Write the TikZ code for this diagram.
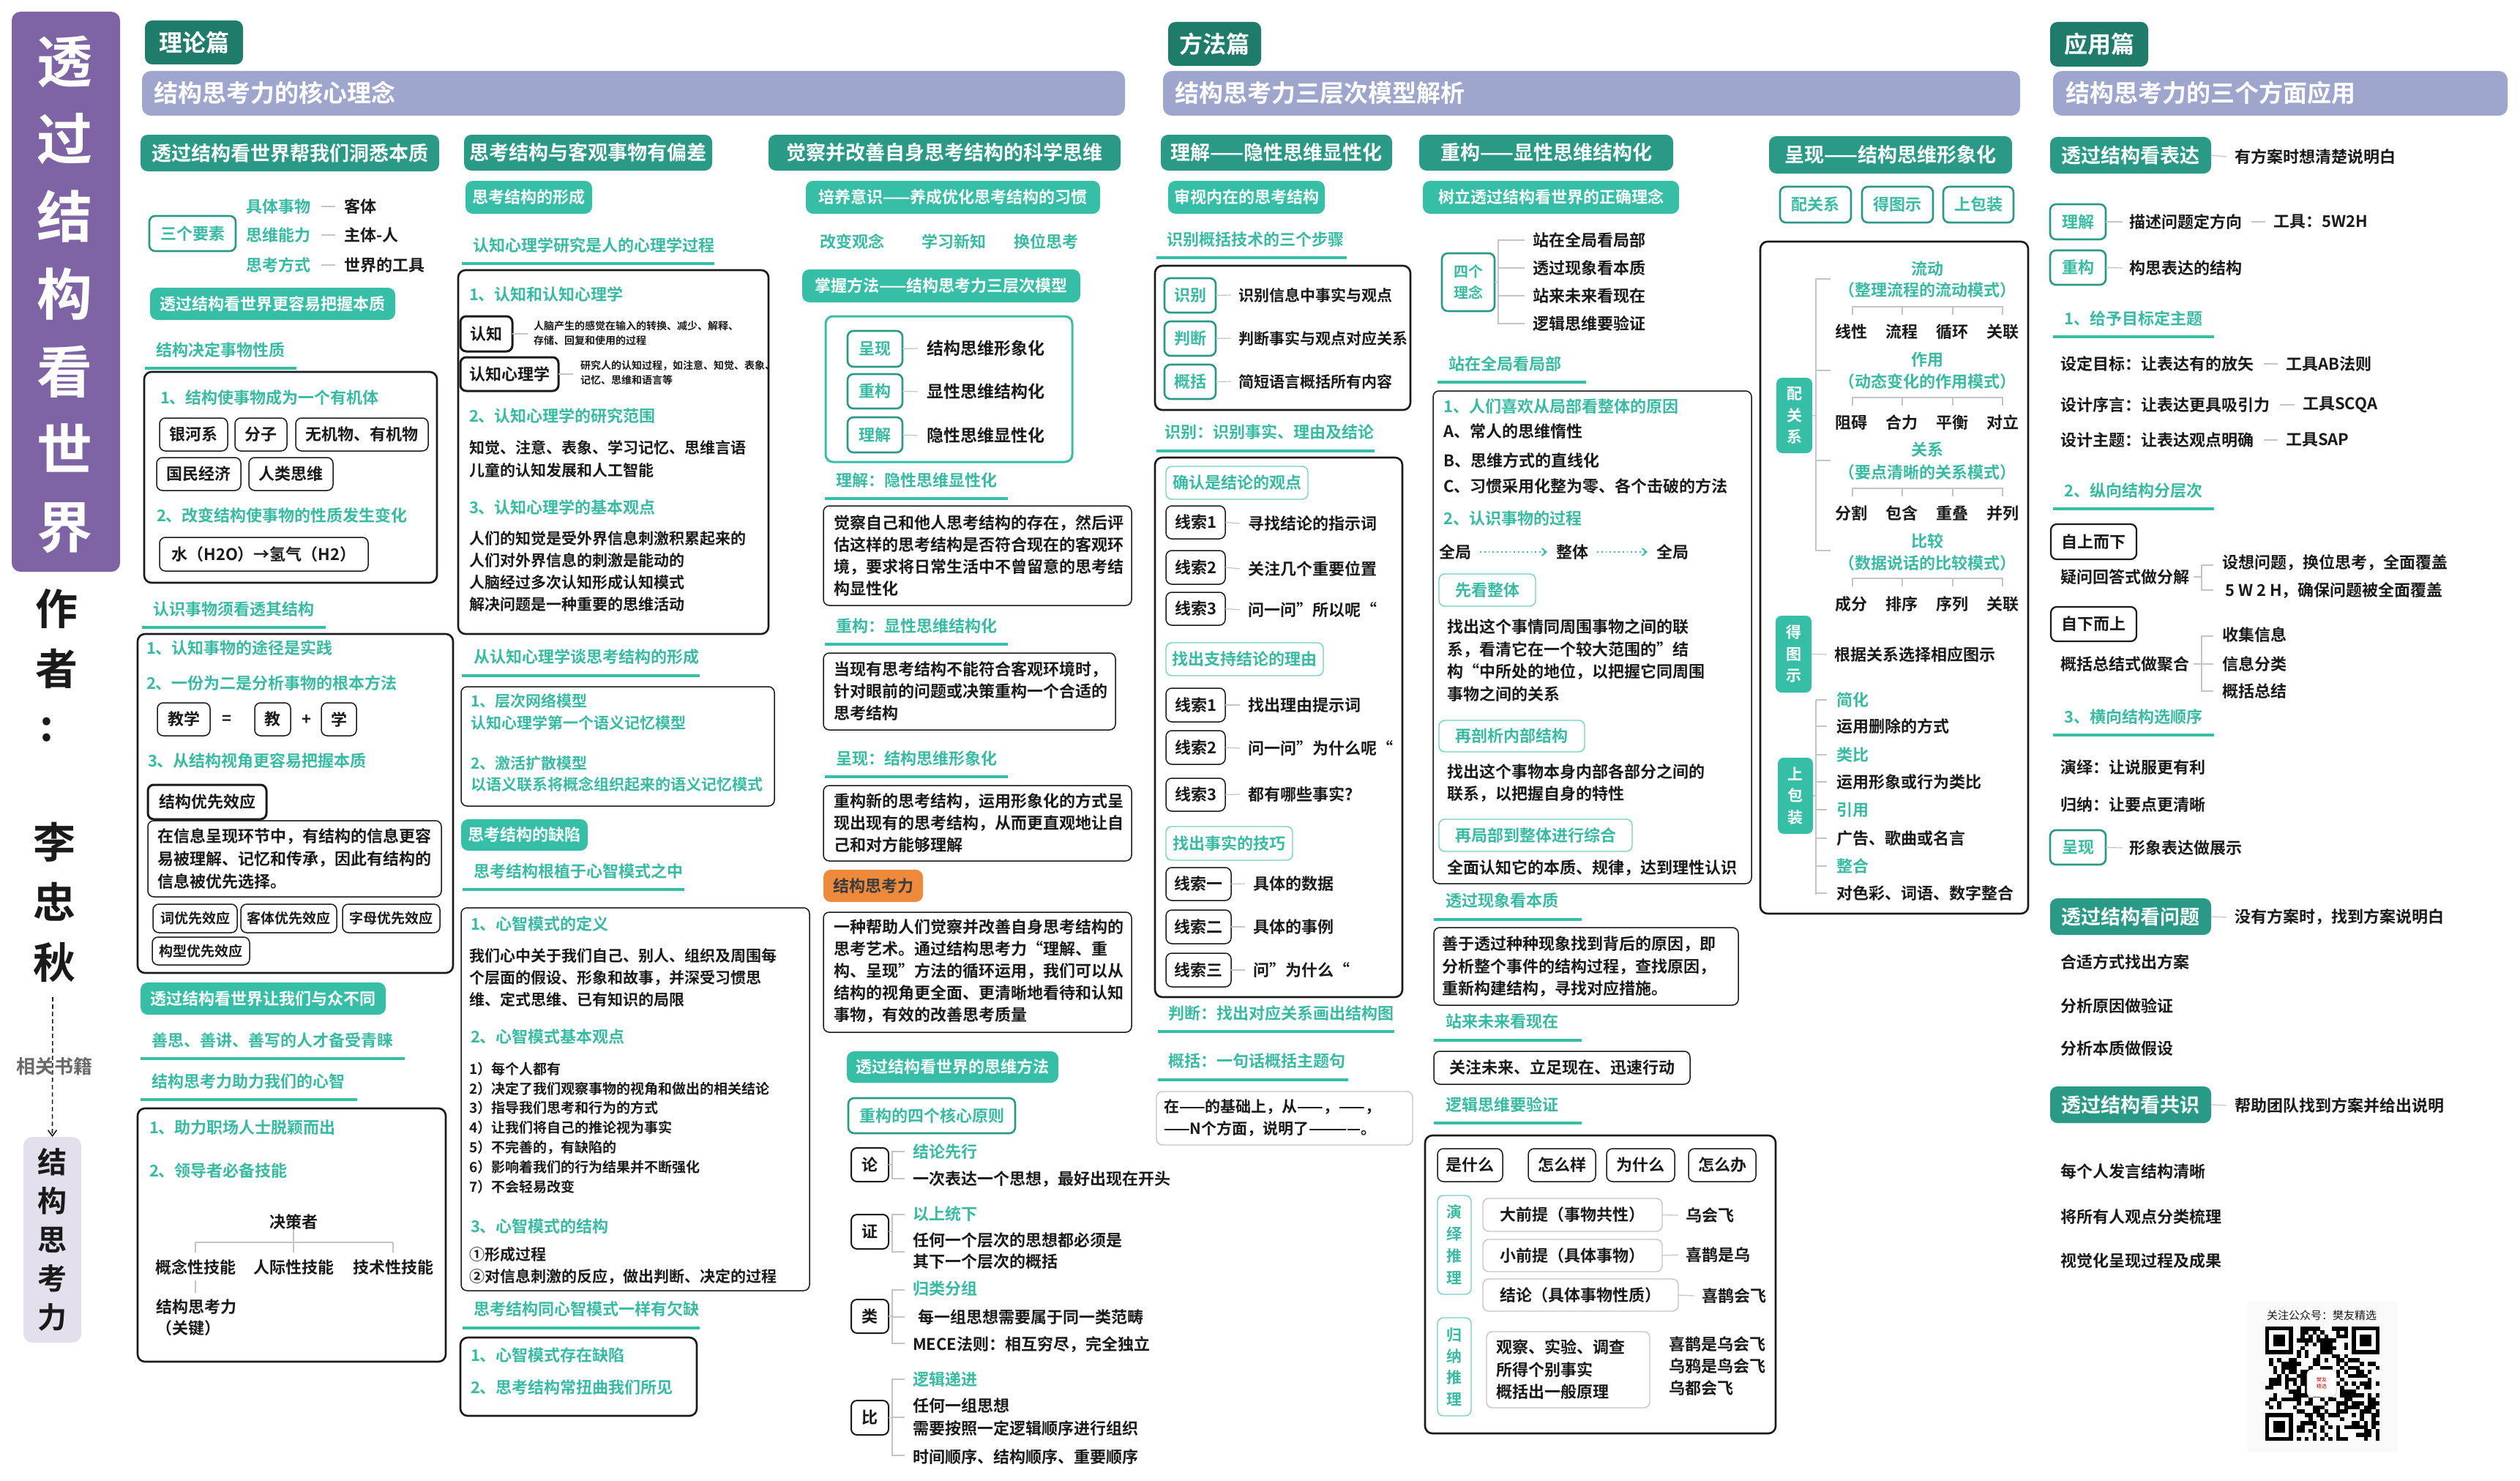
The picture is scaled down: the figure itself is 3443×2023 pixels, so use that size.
\documentclass[tikz,border=0pt]{standalone}
\usepackage{fontspec}
\setmainfont{Noto Sans CJK SC}[BoldFont=* Bold]
\usetikzlibrary{arrows.meta}
\definecolor{purp}{HTML}{7E64A4}
\definecolor{lav}{HTML}{9EA6CD}
\definecolor{lavL}{HTML}{E4DFEC}
\definecolor{tealD}{HTML}{1F7C6A}
\definecolor{tealM}{HTML}{2A9A86}
\definecolor{tealB}{HTML}{36BFA6}
\definecolor{tealT}{HTML}{38BBA2}
\definecolor{ink}{HTML}{1A1A1A}
\definecolor{gry}{HTML}{C4C4C4}
\definecolor{orng}{HTML}{EE8A3C}
\newcommand\fT{\fontsize{38}{53}\selectfont}
\newcommand\fAu{\fontsize{29}{41}\selectfont}
\newcommand\fSec{\fontsize{16}{18}\selectfont}
\newcommand\fBar{\fontsize{16.5}{18}\selectfont}
\newcommand\fH{\fontsize{13.5}{15}\selectfont}
\newcommand\fN{\fontsize{11}{15}\selectfont}
\newcommand\fM{\fontsize{10.5}{15}\selectfont}
\newcommand\fSm{\fontsize{9.5}{13.4}\selectfont}
\newcommand\fX{\fontsize{7}{10}\selectfont}
\newcommand\bx[7][]{\node[#1,minimum width={(#4-#2)*0.5pt},minimum height={(#5-#3)*0.5pt}] (#6) at ({(#2+#4)/2},{(#3+#5)/2}) {#7};}
\tikzset{
 zbase/.style={inner sep=0pt,outer sep=0pt,font=\bfseries\fN,text=ink},
 ztx/.style={zbase,anchor=west},
 ztxn/.style={zbase,anchor=north west,align=left},
 ztc/.style={ztx,text=tealT},
 ztcn/.style={ztxn,text=tealT},
 zsec/.style={zbase,fill=tealD,rounded corners=5pt,text=white,font=\bfseries\fSec},
 zbar/.style={zbase,fill=lav,rounded corners=6pt},
 zbart/.style={ztx,text=white,font=\bfseries\fBar},
 zhd/.style={zbase,fill=tealM,rounded corners=5pt,text=white,font=\bfseries\fH},
 zsb/.style={zbase,fill=tealB,rounded corners=5pt,text=white},
 zbk/.style={zbase,draw=ink,line width=1.3pt,rounded corners=5pt},
 zch/.style={zbase,draw=ink,line width=0.75pt,rounded corners=4pt},
 zchK/.style={zbase,draw=ink,line width=1.5pt,rounded corners=4pt},
 zchT/.style={zbase,draw=tealM,line width=1.3pt,rounded corners=4pt,text=tealT},
 zchL/.style={zbase,draw=tealB!70,line width=0.7pt,rounded corners=4pt,text=tealT},
 zchG/.style={zbase,draw=gry,line width=0.7pt,rounded corners=4pt},
 zvt/.style={zbase,fill=tealB,rounded corners=4pt,text=white,align=center,font=\bfseries\fontsize{10.5}{14.75}\selectfont},
 zul/.style={draw=tealB,line width=2pt},
 zcn/.style={draw=gry,line width=0.6pt},
}
\begin{document}
\begin{tikzpicture}[x=0.5pt,y=-0.5pt]
\useasboundingbox (0,0) rectangle (3443,2023);
\fill[white] (0,0) rectangle (3443,2023);
% ---------------- left panel
\bx[zbase,fill=purp,rounded corners=6pt]{16}{16}{164}{781}{lbar}{}
\node[zbase,text=white,font=\bfseries\fT,align=center] (ltitle) at (88,402) {透\\过\\结\\构\\看\\世\\界};
\node[zbase,font=\bfseries\fAu,align=center] (lzz) at (77,873) {作\\者};
\node[zbase,font=\bfseries\fAu] (lcolon) at (64,997) {:};
\node[zbase,font=\bfseries\fAu,align=center] (lname) at (75,1232) {李\\忠\\秋};
\bx[zbase,fill=lavL,rounded corners=6pt]{32}{1553}{111}{1834}{lbox}{}
\node[zbase,font=\bfseries\fontsize{20}{26.5}\selectfont,align=center] (lboxt) at (lbox.center) {结\\构\\思\\考\\力};
\coordinate (dstart) at (72,1362);
\draw[ink,densely dashed,line width=0.8pt,-{Straight Barb[length=4pt,width=6pt]}] (dstart) -- (lbox.north);
\node[zbase,text=ink!65,font=\bfseries\fontsize{13}{15}\selectfont] (lrel) at (75,1457) {相关书籍};
% ---------------- column 1
\bx[zsec]{198}{28}{332}{88}{sec1}{理论篇}
\bx[zbar]{194}{97}{1537}{158}{bar1}{}
\node[zbart] (bar1t) at (210,127) {结构思考力的核心理念};
\bx[zhd]{192}{184}{600}{234}{h11}{透过结构看世界帮我们洞悉本质}
\bx[zchT]{204}{295}{322}{343}{sgys}{三个要素}
\node[ztc] (ra1) at (336,282) {具体事物};
\node[ztx] (rb1) at (470,282) {客体};
\node[ztc] (ra2) at (336,321) {思维能力};
\node[ztx] (rb2) at (470,321) {主体-人};
\node[ztc] (ra3) at (336,362) {思考方式};
\node[ztx] (rb3) at (470,362) {世界的工具};
\foreach \k in {1,2,3}{\draw[zcn] ([xshift=7.5pt]ra\k.east) -- ([xshift=-6pt]rb\k.west);}
\bx[zsb]{205}{393}{540}{437}{s11}{透过结构看世界更容易把握本质}
\node[ztc] (t11) at (213,478) {结构决定事物性质};
\draw[zul] (198,503) -- (405,503);
\bx[zbk]{197}{508}{597}{796}{box1}{}
\node[ztc] (t12) at (219,543) {1、结构使事物成为一个有机体};
\bx[zch]{218}{571}{311}{616}{c11}{银河系}
\bx[zch]{321}{571}{392}{616}{c12}{分子}
\bx[zch]{404}{571}{585}{616}{c13}{无机物、有机物}
\bx[zch]{214}{625}{329}{670}{c14}{国民经济}
\bx[zch]{340}{625}{455}{670}{c15}{人类思维}
\node[ztc] (t13) at (214,704) {2、改变结构使事物的性质发生变化};
\bx[zch]{218}{734}{503}{780}{c16}{水（H2O）→氢气（H2）}
\node[ztc] (t14) at (209,832) {认识事物须看透其结构};
\draw[zul] (194,857) -- (445,857);
\bx[zbk]{188}{866}{619}{1329}{box2}{}
\node[ztc] (t15) at (200,885) {1、认知事物的途径是实践};
\node[ztc] (t16) at (200,933) {2、一份为二是分析事物的根本方法};
\bx[zch]{215}{960}{287}{1005}{c17}{教学}
\node[zbase] (eq1) at (310,983) {=};
\bx[zch]{348}{960}{397}{1005}{c18}{教}
\node[zbase] (pl1) at (419,983) {+};
\bx[zch]{439}{960}{487}{1005}{c19}{学}
\node[ztc] (t17) at (202,1039) {3、从结构视角更容易把握本质};
\bx[zchK]{202}{1072}{364}{1119}{c20}{结构优先效应}
\bx[zch]{202}{1121}{603}{1225}{c21}{}
\node[ztxn,font=\bfseries\fontsize{11}{15.5}\selectfont] (p11) at (215,1132) {在信息呈现环节中，有结构的信息更容\\易被理解、记忆和传承，因此有结构的\\信息被优先选择。};
\bx[zch,font=\bfseries\fSm]{209}{1235}{324}{1274}{c22}{词优先效应}
\bx[zch,font=\bfseries\fSm]{329}{1235}{460}{1274}{c23}{客体优先效应}
\bx[zch,font=\bfseries\fSm]{468}{1235}{601}{1274}{c24}{字母优先效应}
\bx[zch,font=\bfseries\fSm]{208}{1280}{341}{1318}{c25}{构型优先效应}
\bx[zsb]{192}{1342}{527}{1386}{s12}{透过结构看世界让我们与众不同}
\node[ztc] (t18) at (207,1421) {善思、善讲、善写的人才备受青睐};
\draw[zul] (192,1446) -- (553,1446);
\node[ztc] (t19) at (207,1477) {结构思考力助力我们的心智};
\draw[zul] (192,1502) -- (488,1502);
\bx[zbk]{188}{1514}{609}{1860}{box3}{}
\node[ztc] (t20) at (204,1540) {1、助力职场人士脱颖而出};
\node[ztc] (t21) at (204,1599) {2、领导者必备技能};
\node[zbase] (jcz) at (401,1669) {决策者};
\node[zbase] (sk1) at (267,1731) {概念性技能};
\node[zbase] (sk2) at (401,1731) {人际性技能};
\node[zbase] (sk3) at (537,1731) {技术性技能};
\coordinate (tjm) at (401,1697);
\draw[zcn] (jcz.south) -- (tjm);
\draw[zcn] (sk1.north |- tjm) -- (sk3.north |- tjm);
\foreach \k in {1,2,3}{\draw[zcn] (sk\k.north |- tjm) -- ++(0,14);}
\draw[zcn] (sk1.south) ++(0,7) -- ++(0,17);
\node[ztxn,font=\bfseries\fontsize{11}{14.5}\selectfont] (jgl) at (213,1775) {结构思考力\\（关键）};
% ---------------- column 2
\bx[zhd]{634}{184}{973}{233}{h12}{思考结构与客观事物有偏差}
\bx[zsb]{636}{247}{809}{292}{s21}{思考结构的形成}
\node[ztc] (t22) at (646,335) {认知心理学研究是人的心理学过程};
\draw[zul] (631,360) -- (976,360);
\bx[zbk]{626}{369}{1050}{866}{boxA}{}
\node[ztc] (t23) at (641,402) {1、认知和认知心理学};
\bx[zchK]{629}{432}{700}{480}{rz}{认知}
\bx[zchK]{629}{488}{763}{534}{rzx}{认知心理学}
\draw[zcn] (rz.east) -- ++(21,0);
\draw[zcn] (rzx.east) -- ++(20,0);
\node[ztxn,font=\bfseries\fX] (rzt) at (729,438) {人脑产生的感觉在输入的转换、减少、解释、\\存储、回复和使用的过程};
\node[ztxn,font=\bfseries\fX] (rzxt) at (793,492) {研究人的认知过程，如注意、知觉、表象、\\记忆、思维和语言等};
\node[ztc] (t24) at (641,568) {2、认知心理学的研究范围};
\node[ztxn,font=\bfseries\fontsize{10.5}{15.5}\selectfont] (p21) at (641,601) {知觉、注意、表象、学习记忆、思维言语\\儿童的认知发展和人工智能};
\node[ztc] (t25) at (641,693) {3、认知心理学的基本观点};
\node[ztxn,font=\bfseries\fM] (p22) at (641,725) {人们的知觉是受外界信息刺激积累起来的\\人们对外界信息的刺激是能动的\\人脑经过多次认知形成认知模式\\解决问题是一种重要的思维活动};
\node[ztc] (t26) at (647,897) {从认知心理学谈思考结构的形成};
\draw[zul] (631,923) -- (956,923);
\bx[zch]{630}{938}{1058}{1101}{boxB}{}
\node[ztcn,font=\bfseries\fM] (p23) at (643,947) {1、层次网络模型\\认知心理学第一个语义记忆模型};
\node[ztcn,font=\bfseries\fontsize{10.5}{14.5}\selectfont] (p24) at (643,1033) {2、激活扩散模型\\以语义联系将概念组织起来的语义记忆模式};
\bx[zsb]{630}{1119}{803}{1162}{s22}{思考结构的缺陷}
\node[ztc] (t27) at (647,1190) {思考结构根植于心智模式之中};
\draw[zul] (632,1215) -- (935,1215);
\bx[zch]{630}{1240}{1106}{1763}{boxC}{}
\node[ztc] (t28) at (643,1262) {1、心智模式的定义};
\node[ztxn,font=\bfseries\fM] (p25) at (641,1296) {我们心中关于我们自己、别人、组织及周围每\\个层面的假设、形象和故事，并深受习惯思\\维、定式思维、已有知识的局限};
\node[ztc] (t29) at (643,1416) {2、心智模式基本观点};
\node[ztxn,font=\bfseries\fSm] (p26) at (641,1451) {1）每个人都有\\2）决定了我们观察事物的视角和做出的相关结论\\3）指导我们思考和行为的方式\\4）让我们将自己的推论视为事实\\5）不完善的，有缺陷的\\6）影响着我们的行为结果并不断强化\\7）不会轻易改变};
\node[ztc] (t30) at (643,1675) {3、心智模式的结构};
\node[ztxn,font=\bfseries\fM] (p27) at (641,1703) {①形成过程\\②对信息刺激的反应，做出判断、决定的过程};
\node[ztc] (t31) at (647,1788) {思考结构同心智模式一样有欠缺};
\draw[zul] (632,1814) -- (956,1814);
\bx[zbk]{629}{1827}{952}{1934}{boxD}{}
\node[ztc] (t32) at (643,1851) {1、心智模式存在缺陷};
\node[ztc] (t33) at (643,1895) {2、思考结构常扭曲我们所见};
% ---------------- column 3
\bx[zhd]{1050}{184}{1531}{233}{h13}{觉察并改善自身思考结构的科学思维}
\bx[zsb]{1101}{247}{1503}{292}{s31}{培养意识——养成优化思考结构的习惯}
\node[ztc] (t34) at (1120,330) {改变观念};
\node[ztc] (t35) at (1259,330) {学习新知};
\node[ztc] (t36) at (1385,330) {换位思考};
\bx[zsb]{1096}{368}{1476}{413}{s32}{掌握方法——结构思考力三层次模型}
\bx[zbase,draw=tealB,line width=1.5pt,rounded corners=5pt]{1128}{432}{1465}{631}{boxT}{}
\bx[zchT]{1158}{452}{1233}{501}{m1}{呈现}
\bx[zchT]{1158}{511}{1233}{558}{m2}{重构}
\bx[zchT]{1158}{570}{1233}{618}{m3}{理解}
\node[ztx,font=\bfseries\fontsize{11.5}{15}\selectfont] (mt1) at (1266,476) {结构思维形象化};
\node[ztx,font=\bfseries\fontsize{11.5}{15}\selectfont] (mt2) at (1266,535) {显性思维结构化};
\node[ztx,font=\bfseries\fontsize{11.5}{15}\selectfont] (mt3) at (1266,595) {隐性思维显性化};
\foreach \k in {1,2,3}{\draw[zcn] (m\k.east) -- ([xshift=-6pt]mt\k.west);}
\node[ztc] (t37) at (1142,656) {理解：隐性思维显性化};
\draw[zul] (1127,681) -- (1377,681);
\bx[zch]{1125}{691}{1546}{827}{q31}{}
\node[ztxn] (p31) at (1139,704) {觉察自己和他人思考结构的存在，然后评\\估这样的思考结构是否符合现在的客观环\\境，要求将日常生活中不曾留意的思考结\\构显性化};
\node[ztc] (t38) at (1142,855) {重构：显性思维结构化};
\draw[zul] (1127,880) -- (1377,880);
\bx[zch]{1125}{892}{1524}{997}{q32}{}
\node[ztxn] (p32) at (1139,904) {当现有思考结构不能符合客观环境时，\\针对眼前的问题或决策重构一个合适的\\思考结构};
\node[ztc] (t39) at (1142,1036) {呈现：结构思维形象化};
\draw[zul] (1127,1061) -- (1377,1061);
\bx[zch]{1125}{1073}{1546}{1176}{q33}{}
\node[ztxn] (p33) at (1139,1084) {重构新的思考结构，运用形象化的方式呈\\现出现有的思考结构，从而更直观地让自\\己和对方能够理解};
\bx[zbase,fill=orng,rounded corners=5pt,text=ink!85]{1125}{1188}{1261}{1232}{orb}{结构思考力}
\bx[zch]{1125}{1246}{1546}{1410}{q34}{}
\node[ztxn] (p34) at (1139,1256) {一种帮助人们觉察并改善自身思考结构的\\思考艺术。通过结构思考力“理解、重\\构、呈现”方法的循环运用，我们可以从\\结构的视角更全面、更清晰地看待和认知\\事物，有效的改善思考质量};
\bx[zsb]{1157}{1436}{1446}{1479}{s33}{透过结构看世界的思维方法}
\bx[zchT]{1159}{1500}{1387}{1548}{s34}{重构的四个核心原则}
\bx[zch,line width=1pt]{1163}{1568}{1214}{1614}{yl1}{论}
\bx[zch,line width=1pt]{1163}{1659}{1214}{1706}{yl2}{证}
\bx[zch,line width=1pt]{1163}{1775}{1214}{1821}{yl3}{类}
\bx[zch,line width=1pt]{1163}{1913}{1214}{1960}{yl4}{比}
\draw[zcn] (yl1.east) -- (1219,1591);
\draw[zcn] (1236,1573) -- (1219,1573) -- (1219,1610) -- (1236,1610);
\draw[zcn] (yl2.east) -- (1219,1682);
\draw[zcn] (1236,1659) -- (1219,1659) -- (1219,1710) -- (1236,1710);
\draw[zcn] (yl3.east) -- (1219,1798);
\draw[zcn] (1236,1762) -- (1219,1762) -- (1219,1835) -- (1236,1835);
\draw[zcn] (1219,1799) -- (1236,1799);
\draw[zcn] (yl4.east) -- (1219,1936);
\draw[zcn] (1236,1884) -- (1219,1884) -- (1219,1988) -- (1236,1988);
\draw[zcn] (1219,1936) -- (1236,1936);
\node[ztc] (t40) at (1247,1573) {结论先行};
\node[ztx] (t41) at (1247,1611) {一次表达一个思想，最好出现在开头};
\node[ztc] (t42) at (1247,1658) {以上统下};
\node[ztxn,font=\bfseries\fontsize{11}{14.5}\selectfont] (t43) at (1247,1684) {任何一个层次的思想都必须是\\其下一个层次的概括};
\node[ztc] (t44) at (1247,1760) {归类分组};
\node[ztx] (t45) at (1254,1799) {每一组思想需要属于同一类范畴};
\node[ztx] (t46) at (1247,1837) {MECE法则：相互穷尽，完全独立};
\node[ztc] (t47) at (1247,1884) {逻辑递进};
\node[ztxn,font=\bfseries\fontsize{11}{15.5}\selectfont] (t48) at (1247,1910) {任何一组思想\\需要按照一定逻辑顺序进行组织};
\node[ztx] (t49) at (1247,1990) {时间顺序、结构顺序、重要顺序};
% ---------------- column 4
\bx[zsec]{1596}{30}{1723}{90}{sec2}{方法篇}
\bx[zbar]{1589}{97}{2760}{158}{bar2}{}
\node[zbart] (bar2t) at (1605,127) {结构思考力三层次模型解析};
\bx[zhd]{1586}{184}{1902}{233}{h14}{理解——隐性思维显性化}
\bx[zsb]{1596}{247}{1810}{292}{s41}{审视内在的思考结构}
\node[ztc] (t50) at (1594,327) {识别概括技术的三个步骤};
\draw[zul] (1580,352) -- (1840,352);
\bx[zbk]{1578}{363}{1927}{560}{boxE}{}
\bx[zchT]{1591}{380}{1661}{427}{k1}{识别}
\bx[zchT]{1591}{439}{1661}{486}{k2}{判断}
\bx[zchT]{1591}{498}{1661}{545}{k3}{概括}
\node[ztx,font=\bfseries\fM] (kt1) at (1692,403) {识别信息中事实与观点};
\node[ztx,font=\bfseries\fM] (kt2) at (1692,462) {判断事实与观点对应关系};
\node[ztx,font=\bfseries\fM] (kt3) at (1692,521) {简短语言概括所有内容};
\foreach \k in {1,2,3}{\draw[zcn] (k\k.east) -- ([xshift=-5pt]kt\k.west);}
\node[ztc] (t51) at (1591,590) {识别：识别事实、理由及结论};
\draw[zul] (1580,616) -- (1878,616);
\bx[zbk]{1578}{625}{1916}{1362}{boxF}{}
\bx[zchL]{1593}{637}{1787}{682}{f1}{确认是结论的观点}
\bx[zch]{1593}{691}{1674}{736}{x1}{线索1}
\bx[zch]{1593}{752}{1674}{798}{x2}{线索2}
\bx[zch]{1593}{809}{1674}{854}{x3}{线索3}
\node[ztx] (xt1) at (1705,715) {寻找结论的指示词};
\node[ztx] (xt2) at (1705,777) {关注几个重要位置};
\node[ztx] (xt3) at (1705,833) {问一问”所以呢“};
\bx[zchL]{1593}{878}{1808}{923}{f2}{找出支持结论的理由}
\bx[zch]{1593}{940}{1674}{986}{x4}{线索1}
\bx[zch]{1593}{998}{1674}{1044}{x5}{线索2}
\bx[zch]{1593}{1063}{1674}{1108}{x6}{线索3}
\node[ztx] (xt4) at (1705,963) {找出理由提示词};
\node[ztx] (xt5) at (1705,1022) {问一问”为什么呢“};
\node[ztx] (xt6) at (1705,1085) {都有哪些事实?};
\bx[zchL]{1593}{1129}{1766}{1175}{f3}{找出事实的技巧}
\bx[zch]{1593}{1185}{1682}{1230}{x7}{线索一}
\bx[zch]{1593}{1243}{1682}{1289}{x8}{线索二}
\bx[zch]{1593}{1302}{1682}{1348}{x9}{线索三}
\node[ztx] (xt7) at (1712,1207) {具体的数据};
\node[ztx] (xt8) at (1712,1266) {具体的事例};
\node[ztx] (xt9) at (1712,1325) {问”为什么“};
\foreach \k in {1,...,9}{\draw[zcn] (x\k.east) -- ([xshift=-5.5pt]xt\k.west);}
\node[ztc] (t52) at (1596,1384) {判断：找出对应关系画出结构图};
\draw[zul] (1582,1409) -- (1905,1409);
\node[ztc] (t53) at (1596,1449) {概括：一句话概括主题句};
\draw[zul] (1582,1475) -- (1842,1475);
\bx[zchG]{1580}{1491}{1930}{1564}{boxG}{}
\node[ztxn,font=\bfseries\fM] (p41) at (1590,1502) {在——的基础上，从——，——，\\——N个方面，说明了————。};
% ---------------- column 5
\bx[zhd]{1939}{184}{2286}{233}{h15}{重构——显性思维结构化}
\bx[zsb]{1944}{247}{2294}{292}{s51}{树立透过结构看世界的正确理念}
\bx[zchT,align=center,font=\bfseries\fontsize{10}{14.5}\selectfont]{1970}{346}{2042}{425}{slq}{四个\\理念}
\draw[zcn] (slq.east) -- (2047,385);
\draw[zcn] (2083,328) -- (2047,328) -- (2047,442) -- (2083,442);
\draw[zcn] (2047,366) -- (2083,366);
\draw[zcn] (2047,404) -- (2083,404);
\node[ztx] (lq1) at (2094,328) {站在全局看局部};
\node[ztx] (lq2) at (2094,366) {透过现象看本质};
\node[ztx] (lq3) at (2094,404) {站来未来看现在};
\node[ztx] (lq4) at (2094,442) {逻辑思维要验证};
\node[ztc] (t54) at (1979,497) {站在全局看局部};
\draw[zul] (1964,522) -- (2167,522);
\bx[zch]{1958}{534}{2393}{1207}{boxH}{}
\node[ztc] (t55) at (1972,555) {1、人们喜欢从局部看整体的原因};
\node[ztx] (t56) at (1972,589) {A、常人的思维惰性};
\node[ztx] (t57) at (1972,629) {B、思维方式的直线化};
\node[ztx] (t58) at (1972,664) {C、习惯采用化整为零、各个击破的方法};
\node[ztc] (t59) at (1972,708) {2、认识事物的过程};
\node[ztx] (qj1) at (1966,754) {全局};
\node[ztx] (zt1) at (2126,754) {整体};
\node[ztx] (qj2) at (2263,754) {全局};
\draw[tealB,dotted,line width=0.9pt,-{Straight Barb[length=3pt,width=5pt]},shorten <=6pt,shorten >=6pt] (qj1.east) -- (zt1.west);
\draw[tealB,dotted,line width=0.9pt,-{Straight Barb[length=3pt,width=5pt]},shorten <=6pt,shorten >=6pt] (zt1.east) -- (qj2.west);
\bx[zchL]{1966}{784}{2098}{828}{f51}{先看整体}
\node[ztxn,font=\bfseries\fontsize{11}{15.25}\selectfont] (p51) at (1977,846) {找出这个事情同周围事物之间的联\\系，看清它在一个较大范围的”结\\构“中所处的地位，以把握它同周围\\事物之间的关系};
\bx[zchL]{1966}{984}{2165}{1027}{f52}{再剖析内部结构}
\node[ztxn] (p52) at (1977,1044) {找出这个事物本身内部各部分之间的\\联系，以把握自身的特性};
\bx[zchL]{1966}{1119}{2230}{1163}{f53}{再局部到整体进行综合}
\node[ztx] (t60) at (1977,1186) {全面认知它的本质、规律，达到理性认识};
\node[ztc] (t61) at (1975,1230) {透过现象看本质};
\draw[zul] (1959,1256) -- (2161,1256);
\bx[zch]{1959}{1267}{2375}{1373}{q51}{}
\node[ztxn,font=\bfseries\fontsize{11}{15.25}\selectfont] (p53) at (1970,1279) {善于透过种种现象找到背后的原因，即\\分析整个事件的结构过程，查找原因，\\重新构建结构，寻找对应措施。};
\node[ztc] (t62) at (1975,1395) {站来未来看现在};
\draw[zul] (1959,1421) -- (2161,1421);
\bx[zch]{1959}{1436}{2309}{1481}{q52}{关注未来、立足现在、迅速行动}
\node[ztc] (t63) at (1975,1509) {逻辑思维要验证};
\draw[zul] (1959,1534) -- (2161,1534);
\bx[zbk]{1947}{1551}{2426}{1958}{boxK}{}
\bx[zch]{1964}{1569}{2053}{1614}{w1}{是什么}
\bx[zch]{2088}{1569}{2180}{1614}{w2}{怎么样}
\bx[zch]{2195}{1569}{2288}{1614}{w3}{为什么}
\bx[zch]{2307}{1569}{2399}{1614}{w4}{怎么办}
\bx[zchL,align=center,font=\bfseries\fontsize{10.5}{15}\selectfont]{1964}{1633}{2010}{1768}{yy}{演\\绎\\推\\理}
\bx[zchL,align=center,font=\bfseries\fontsize{10.5}{14.6}\selectfont]{1964}{1800}{2010}{1934}{gn}{归\\纳\\推\\理}
\bx[zchG]{2026}{1637}{2271}{1682}{lg1}{大前提（事物共性）}
\bx[zchG]{2026}{1693}{2271}{1737}{lg2}{小前提（具体事物）}
\bx[zchG]{2026}{1747}{2293}{1791}{lg3}{结论（具体事物性质）}
\node[ztx] (lr1) at (2303,1660) {乌会飞};
\node[ztx] (lr2) at (2303,1714) {喜鹊是乌};
\node[ztx] (lr3) at (2325,1770) {喜鹊会飞};
\foreach \k in {1,2,3}{\draw[zcn] (lg\k.east) -- ([xshift=-5pt]lr\k.west);}
\bx[zchG]{2031}{1819}{2254}{1923}{lg4}{}
\node[ztxn,font=\bfseries\fontsize{11}{15.25}\selectfont] (p54) at (2044,1830) {观察、实验、调查\\所得个别事实\\概括出一般原理};
\node[ztxn,font=\bfseries\fontsize{11}{15}\selectfont] (p55) at (2280,1826) {喜鹊是乌会飞\\乌鸦是鸟会飞\\乌都会飞};
% ---------------- column 6
\bx[zhd]{2417}{186}{2749}{237}{h16}{呈现——结构思维形象化}
\bx[zchT]{2432}{255}{2529}{304}{v1}{配关系}
\bx[zchT]{2544}{255}{2641}{304}{v2}{得图示}
\bx[zchT]{2655}{255}{2751}{304}{v3}{上包装}
\bx[zbk]{2405}{330}{2771}{1248}{boxL}{}
\bx[zvt]{2427}{516}{2476}{619}{pgx}{配\\关\\系}
\draw[zcn] (pgx.east) -- (2481,568);
\draw[zcn] (2501,381) -- (2481,381) -- (2481,752) -- (2501,752);
\draw[zcn] (2481,506) -- (2501,506);
\draw[zcn] (2481,629) -- (2501,629);
\foreach \g/\ya/\yb/\yc/\yd/\ta/\tb/\qa/\qb/\qc/\qd in {
 1/367/396/419/453/流动/（整理流程的流动模式）/线性/流程/循环/关联,
 2/491/521/543/577/作用/（动态变化的作用模式）/阻碍/合力/平衡/对立,
 3/614/645/667/701/关系/（要点清晰的关系模式）/分割/包含/重叠/并列,
 4/739/769/790/825/比较/（数据说话的比较模式）/成分/排序/序列/关联}{
 \node[ztc,anchor=center] (gt\g) at (2633,\ya) {\ta};
 \node[ztc,anchor=center] (gs\g) at (2633,\yb) {\tb};
 \draw[zcn] (2531,{\yc+11}) -- (2531,\yc) -- (2736,\yc) -- (2736,{\yc+11});
 \draw[zcn] (2599,\yc) -- (2599,{\yc+11});
 \draw[zcn] (2668,\yc) -- (2668,{\yc+11});
 \node[zbase] (gwa\g) at (2529,\yd) {\qa};
 \node[zbase] (gwb\g) at (2598,\yd) {\qb};
 \node[zbase] (gwc\g) at (2667,\yd) {\qc};
 \node[zbase] (gwd\g) at (2736,\yd) {\qd};
}
\bx[zvt]{2426}{841}{2475}{946}{dts}{得\\图\\示}
\node[ztx] (dtt) at (2506,894) {根据关系选择相应图示};
\draw[zcn] (dts.east) -- ([xshift=-5pt]dtt.west);
\bx[zvt]{2429}{1035}{2477}{1139}{sbz}{上\\包\\装}
\draw[zcn] (sbz.east) -- (2481,1087);
\draw[zcn] (2481,956) -- (2481,1222);
\foreach \yy in {956,992,1031,1068,1106,1145,1183,1220}{\draw[zcn] (2481,\yy) -- (2496,\yy);}
\node[ztc] (bz1) at (2509,956) {简化};
\node[ztx] (bz2) at (2509,992) {运用删除的方式};
\node[ztc] (bz3) at (2509,1031) {类比};
\node[ztx] (bz4) at (2509,1068) {运用形象或行为类比};
\node[ztc] (bz5) at (2509,1106) {引用};
\node[ztx] (bz6) at (2509,1145) {广告、歌曲或名言};
\node[ztc] (bz7) at (2509,1183) {整合};
\node[ztx] (bz8) at (2509,1220) {对色彩、词语、数字整合};
% ---------------- column 7
\bx[zsec]{2801}{30}{2935}{91}{sec3}{应用篇}
\bx[zbar]{2805}{97}{3426}{158}{bar3}{}
\node[zbart] (bar3t) at (2822,127) {结构思考力的三个方面应用};
\bx[zhd]{2801}{187}{3021}{237}{h71}{透过结构看表达}
\node[ztx] (e1) at (3053,214) {有方案时想清楚说明白};
\draw[zcn] (h71.east) -- ([xshift=-5.5pt]e1.west);
\bx[zchT]{2801}{279}{2877}{327}{ec1}{理解}
\node[ztx] (e2) at (2909,303) {描述问题定方向};
\node[ztx] (e3) at (3106,303) {工具：5W2H};
\draw[zcn] (ec1.east) -- ([xshift=-4.5pt]e2.west);
\draw[zcn] ([xshift=6.5pt]e2.east) -- ([xshift=-5.5pt]e3.west);
\bx[zchT]{2801}{342}{2877}{389}{ec2}{重构}
\node[ztx] (e4) at (2909,366) {构思表达的结构};
\draw[zcn] (ec2.east) -- ([xshift=-4.5pt]e4.west);
\node[ztc] (e5) at (2820,435) {1、给予目标定主题};
\draw[zul] (2805,460) -- (3025,460);
\node[ztx] (e6) at (2815,497) {设定目标：让表达有的放矢};
\node[ztx] (e7) at (3123,497) {工具AB法则};
\node[ztx] (e8) at (2815,553) {设计序言：让表达更具吸引力};
\node[ztx] (e9) at (3146,553) {工具SCQA};
\node[ztx] (e10) at (2815,601) {设计主题：让表达观点明确};
\node[ztx] (e11) at (3123,601) {工具SAP};
\draw[zcn] ([xshift=7pt]e6.east) -- ([xshift=-5.5pt]e7.west);
\draw[zcn] ([xshift=7pt]e8.east) -- ([xshift=-5.5pt]e9.west);
\draw[zcn] ([xshift=7pt]e10.east) -- ([xshift=-5.5pt]e11.west);
\node[ztc] (e12) at (2820,670) {2、纵向结构分层次};
\draw[zul] (2805,695) -- (3025,695);
\bx[zch,line width=1.1pt]{2802}{716}{2919}{764}{ec3}{自上而下}
\node[ztx] (e13) at (2815,788) {疑问回答式做分解};
\draw[zcn] ([xshift=3pt]e13.east) -- (3008,788);
\draw[zcn] (3024,772) -- (3008,772) -- (3008,806) -- (3024,806);
\node[ztx] (e14) at (3036,769) {设想问题，换位思考，全面覆盖};
\node[ztx] (e15) at (3040,807) {5 W 2 H，确保问题被全面覆盖};
\bx[zch,line width=1.1pt]{2802}{829}{2919}{876}{ec4}{自下而上}
\node[ztx] (e16) at (2815,907) {概括总结式做聚合};
\draw[zcn] ([xshift=3pt]e16.east) -- (3008,907);
\draw[zcn] (3024,869) -- (3008,869) -- (3008,944) -- (3024,944);
\draw[zcn] (3008,907) -- (3024,907);
\node[ztx] (e17) at (3036,867) {收集信息};
\node[ztx] (e18) at (3036,907) {信息分类};
\node[ztx] (e19) at (3036,944) {概括总结};
\node[ztc] (e20) at (2820,979) {3、横向结构选顺序};
\draw[zul] (2805,1004) -- (3025,1004);
\node[ztx] (e21) at (2815,1048) {演绎：让说服更有利};
\node[ztx] (e22) at (2815,1099) {归纳：让要点更清晰};
\bx[zchT]{2801}{1134}{2877}{1181}{ec5}{呈现}
\node[ztx] (e23) at (2909,1158) {形象表达做展示};
\draw[zcn] (ec5.east) -- ([xshift=-4.5pt]e23.west);
\bx[zhd]{2801}{1227}{3021}{1277}{h72}{透过结构看问题}
\node[ztx] (e24) at (3053,1253) {没有方案时，找到方案说明白};
\draw[zcn] (h72.east) -- ([xshift=-5.5pt]e24.west);
\node[ztx] (e25) at (2815,1314) {合适方式找出方案};
\node[ztx] (e26) at (2815,1374) {分析原因做验证};
\node[ztx] (e27) at (2815,1432) {分析本质做假设};
\bx[zhd]{2801}{1484}{3021}{1534}{h73}{透过结构看共识}
\node[ztx] (e28) at (3053,1510) {帮助团队找到方案并给出说明};
\draw[zcn] (h73.east) -- ([xshift=-5.5pt]e28.west);
\node[ztx] (e29) at (2815,1600) {每个人发言结构清晰};
\node[ztx] (e30) at (2815,1662) {将所有人观点分类梳理};
\node[ztx] (e31) at (2815,1722) {视觉化呈现过程及成果};
% QR
\bx[zbase,fill=black!2]{3070}{1778}{3276}{1984}{qrbg}{}
\node[zbase,font=\fontsize{7.5}{8}\selectfont] (qrcap) at (3172,1797) {关注公众号：樊友精选};
\pgfmathsetseed{4242}
\foreach \i in {0,...,28}{\foreach \j in {0,...,28}{
 \pgfmathtruncatemacro\rrv{rnd+0.5}
 \pgfmathtruncatemacro\fzz{((\i<8)&&(\j<8))||((\i>20)&&(\j<8))||((\i<8)&&(\j>20))}
 \ifnum\rrv=1\relax\ifnum\fzz=0\relax
  \fill[black] ({3095+\i*5.38},{1812+\j*5.38}) rectangle ++(5.5,5.5);
 \fi\fi
}}
\foreach \a/\b in {0/0,22/0,0/22}{
 \fill[black] ({3095+\a*5.38},{1812+\b*5.38}) rectangle ++(37.66,37.66);
 \fill[white] ({3095+(\a+1)*5.38},{1812+(\b+1)*5.38}) rectangle ++(26.9,26.9);
 \fill[black] ({3095+(\a+2)*5.38},{1812+(\b+2)*5.38}) rectangle ++(16.14,16.14);
}
\bx[zbase,fill=white,rounded corners=3pt,draw=gry,line width=0.3pt]{3152}{1871}{3192}{1908}{qrlogo}{}
\node[zbase,text=red!75!black,font=\fontsize{3.5}{4.5}\selectfont,align=center] (qrlt) at (qrlogo.center) {樊友\\精选};
\end{tikzpicture}
\end{document}
